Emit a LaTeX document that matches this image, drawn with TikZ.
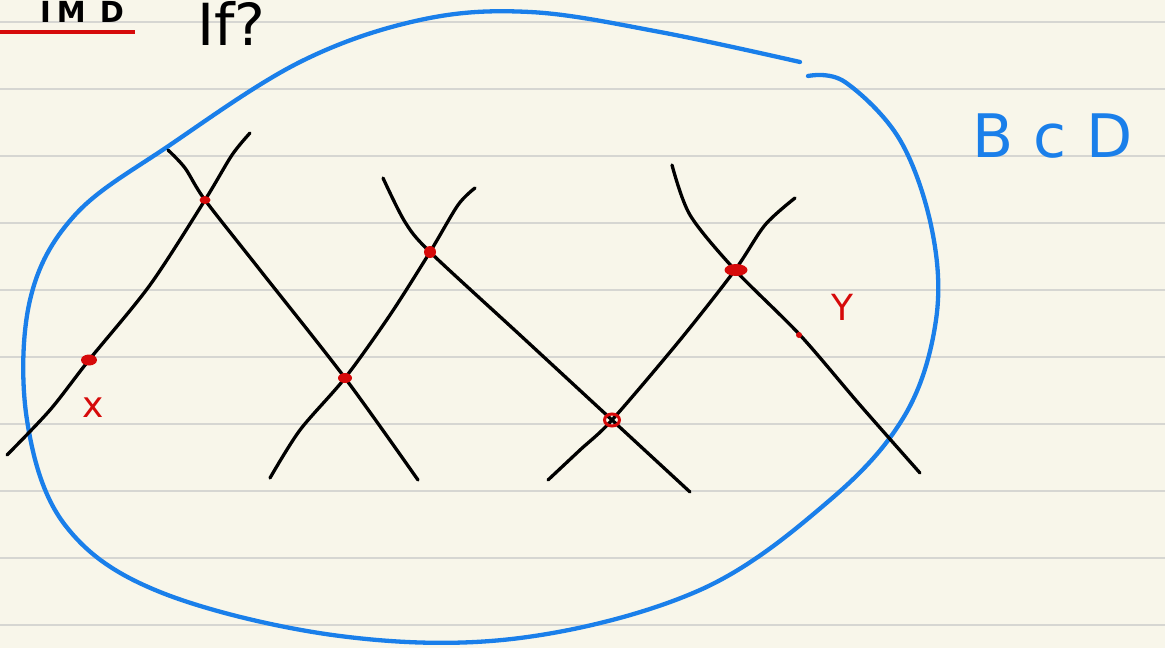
\documentclass[tikz,border=0pt]{standalone}
\usepackage{fontspec}
\setsansfont{DejaVu Sans}
\usepackage{xcolor}
\usetikzlibrary{shapes.geometric}
\definecolor{paper}{HTML}{F8F6EA}
\definecolor{rule}{HTML}{D6D6D2}
\definecolor{inkblue}{HTML}{1A7FEA}
\definecolor{inkred}{HTML}{D60A0A}

\begin{document}
\begin{tikzpicture}[
x=1pt,y=-1pt,
ruleline/.style={rule,line width=1.6pt},
worldline/.style={black,line width=3.3pt,line cap=round,line join=round},
region/.style={inkblue,line width=4.3pt,line cap=round,line join=round},
event/.style={inkred,fill=inkred,ellipse,inner sep=0pt},
label/.style={inkred,font=\sffamily\fontsize{36}{36}\selectfont,inner sep=0pt}
]
\fill[paper] (0,0) rectangle (1165,648);
\useasboundingbox (0,0) rectangle (1165,648);

% ruled paper
\foreach \y in {22,89,156,223,290,357,424,491,558,625}
  \draw[ruleline] (0,\y) -- (1165,\y);

% heading
\node[anchor=base,font=\sffamily\bfseries\fontsize{29}{29}\selectfont,inner sep=0pt] (title) at (82,22) {I\hspace{6pt}M\hspace{14pt}D};
\node[anchor=base west,font=\sffamily\fontsize{58}{58}\selectfont,inner sep=0pt] (question) at (197,45) {If?};
\draw[inkred,line width=3.5pt] (0,32) -- (135,32);

% the region
\draw[region] plot[smooth,tension=0.6] coordinates {
  (808,76) (845,82) (900,140) (932,230) (936,320) (905,415) (830,500)
  (700,590) (520,638) (340,636) (160,592) (65,525) (27,420) (30,300)
  (75,215) (170,145) (300,62) (420,20) (530,12) (660,32) (800,62)};
\node[inkblue,font=\sffamily\fontsize{60}{60}\selectfont,anchor=base west,inner sep=0pt] (bcd) at (972,157) {B\,\,c\,\,D};

% light-like lines
\draw[worldline] plot[smooth,tension=0.5] coordinates {(7,455) (50,410) (89,360) (150,285) (205,200) (232,155) (250,133)};
\draw[worldline] plot[smooth,tension=0.5] coordinates {(168,150) (185,168) (205,200) (260,270) (345,378) (418,480)};
\draw[worldline] plot[smooth,tension=0.5] coordinates {(270,478) (300,430) (345,378) (390,315) (430,252) (458,205) (475,188)};
\draw[worldline] plot[smooth,tension=0.5] coordinates {(383,178) (405,222) (430,252) (520,335) (612,420) (690,492)};
\draw[worldline] plot[smooth,tension=0.5] coordinates {(548,480) (580,450) (612,420) (680,340) (735,270) (765,225) (795,198)};
\draw[worldline] plot[smooth,tension=0.5] coordinates {(672,165) (690,215) (735,270) (800,335) (860,405) (920,473)};

% events
\node[event,minimum width=11pt,minimum height=8pt] (e1) at (205,200) {};
\node[event,minimum width=16pt,minimum height=11pt] (e2) at (89,360) {};
\node[event,minimum width=14pt,minimum height=10pt] (e3) at (345,378) {};
\node[event,minimum width=12pt,minimum height=12pt] (e4) at (430,252) {};
\node[inkred,draw,ellipse,line width=3pt,minimum width=15pt,minimum height=12pt,inner sep=0pt] (e5) at (612,420) {};
\node[event,minimum width=23pt,minimum height=12pt] (e6) at (736,270) {};
\node[event,minimum width=6pt,minimum height=6pt] (e7) at (799,335) {};

\node[label] (xlab) at (93,408) {x};
\node[label] (ylab) at (842,307) {Y};
\end{tikzpicture}
\end{document}
